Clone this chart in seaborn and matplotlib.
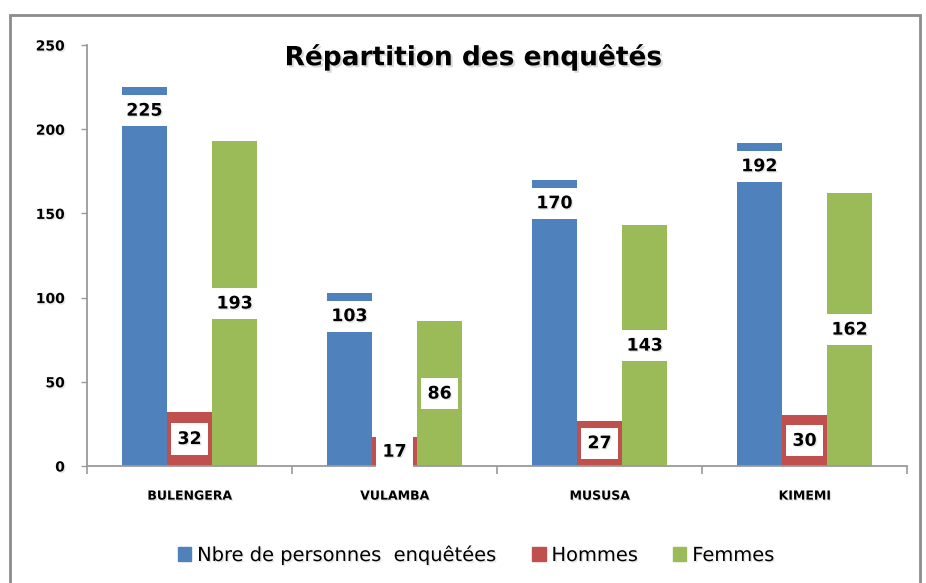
import pandas as pd
import seaborn as sns
import matplotlib.pyplot as plt
import matplotlib.patheffects as pe
from matplotlib.patches import Rectangle, Patch

# Data
sites = ['BULENGERA', 'VULAMBA', 'MUSUSA', 'KIMEMI']
total = [225, 103, 170, 192]
hommes = [32, 17, 27, 30]
femmes = [193, 86, 143, 162]
series = ['Nbre de personnes  enquêtées', 'Hommes', 'Femmes']
colors = ['#4F81BD', '#C0504D', '#9BBB59']

df = pd.DataFrame({
    'site': sites * 3,
    'serie': [series[0]] * 4 + [series[1]] * 4 + [series[2]] * 4,
    'value': total + hommes + femmes,
})

sns.set_style('white')
plt.rcParams['font.family'] = ['DejaVu Sans']
plt.rcParams['text.color'] = 'black'
plt.rcParams['xtick.labelcolor'] = 'black'
plt.rcParams['ytick.labelcolor'] = 'black'

# soft text shadow like the original
shadow = [pe.withSimplePatchShadow(offset=(1, -1), shadow_rgbFace='#999999', alpha=0.25)]

fig = plt.figure(figsize=(9.26, 5.83), dpi=100)
ax = fig.add_axes([0.094, 0.2007, 0.8855, 0.7221])

sns.barplot(data=df, x='site', y='value', hue='serie', palette=colors,
            width=0.66, gap=0, saturation=1, ax=ax, edgecolor='none')
ax.legend_.remove()

ax.set_ylim(0, 250)
ax.set_xlim(-0.5, 3.5)
ax.set_yticks(range(0, 251, 50))
ax.set_xlabel('')
ax.set_ylabel('')

# value labels in white boxes
for i, cont in enumerate(ax.containers):
    for bar in cont:
        h = bar.get_height()
        x = bar.get_x() + bar.get_width() / 2
        y = h - 14 if i == 0 else h / 2
        ax.text(x, y, f'{int(h)}', ha='center', va='center', fontsize=12.5,
                fontweight='bold', color='black', path_effects=shadow,
                bbox=dict(boxstyle='square,pad=0.38', fc='white', ec='none'))

# axes styling
for s in ['top', 'right']:
    ax.spines[s].set_visible(False)
for s in ['left', 'bottom']:
    ax.spines[s].set_color('#9a9a9a')
    ax.spines[s].set_linewidth(1.3)

ax.tick_params(axis='y', left=True, length=4, width=1, color='#9a9a9a', pad=12, labelsize=10)
ax.tick_params(axis='x', which='major', bottom=True, length=0, pad=17, labelsize=9)
ax.set_xticks([-0.5, 0.5, 1.5, 2.5, 3.5], minor=True)
ax.tick_params(axis='x', which='minor', bottom=True, direction='out', length=6,
               width=1.2, color='#9a9a9a')
for lbl in ax.get_xticklabels() + ax.get_yticklabels():
    lbl.set_fontweight('bold')
    lbl.set_path_effects(shadow)

ax.text(0.471, 0.971, 'Répartition des enquêtés', transform=ax.transAxes,
        ha='center', va='center', fontsize=19, fontweight='bold',
        path_effects=[pe.withSimplePatchShadow(offset=(1.5, -1.5), shadow_rgbFace='#888888', alpha=0.3)])

# legend
handles = [Patch(color=c, label=s) for c, s in zip(colors, series)]
leg = fig.legend(handles=handles, loc='center', bbox_to_anchor=(0.514, 0.048), ncol=3,
                 frameon=False, fontsize=14, handlelength=0.7, handleheight=0.7,
                 handletextpad=0.3, columnspacing=1.8)
for t in leg.get_texts():
    t.set_color('black')
    t.set_path_effects(shadow)

# outer chart frame
fig.patches.append(Rectangle((0.0108, -0.02), 0.983, 0.994, transform=fig.transFigure,
                             fill=False, ec='#8c8c8c', lw=2))

fig.savefig('out.png', dpi=100)
